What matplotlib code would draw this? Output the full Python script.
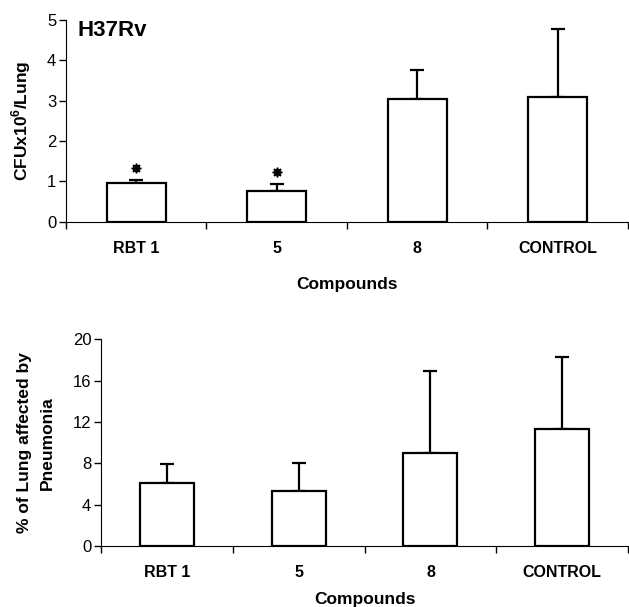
import matplotlib.pyplot as plt
from matplotlib.transforms import offset_copy

plt.rcParams['font.family'] = 'Liberation Sans'
plt.rcParams['mathtext.fontset'] = 'custom'
plt.rcParams['mathtext.rm'] = 'Liberation Sans:bold'
plt.rcParams['mathtext.bf'] = 'Liberation Sans:bold'

compounds = ['RBT 1', '5', '8', 'CONTROL']
cfu = [0.96, 0.76, 3.04, 3.09]
cfu_err = [0.07, 0.17, 0.72, 1.68]
cfu_signif = [True, True, False, False]
pneumonia = [6.1, 5.3, 9.0, 11.35]
pneumonia_err = [1.85, 2.7, 7.9, 6.95]

fig = plt.figure(figsize=(6.29, 6.07), dpi=100)
ax1 = fig.add_axes([0.105, 0.6347, 0.893, 0.3322])
ax2 = fig.add_axes([0.1606, 0.1005, 0.838, 0.3405])


def style(ax, ylim, yticks):
    x = list(range(len(compounds)))
    ax.set_xlim(-0.5, len(compounds) - 0.5)
    ax.set_ylim(*ylim)
    ax.set_yticks(yticks)
    ax.set_xticks([i - 0.5 for i in range(len(compounds) + 1)])
    ax.set_xticklabels([])
    ax.set_xticks(x, minor=True)
    ax.set_xticklabels(compounds, minor=True, fontweight='bold', fontsize=11.5)
    ax.tick_params(axis='x', which='minor', length=0, pad=14)
    ax.tick_params(axis='x', which='major', length=5, width=1)
    ax.tick_params(axis='y', length=5, width=1, labelsize=12, pad=2)
    ax.spines['top'].set_visible(False)
    ax.spines['right'].set_visible(False)
    ax.set_xlabel('Compounds', fontweight='bold', fontsize=12.5)
    return x


x = style(ax1, (0, 5), [0, 1, 2, 3, 4, 5])
ax1.bar(x, cfu, width=0.42, fc='white', edgecolor='k', linewidth=1.6, zorder=2)
ax1.errorbar(x, cfu, yerr=[[0] * len(cfu), cfu_err], fmt='none', ecolor='k',
             elinewidth=1.6, capsize=5, capthick=1.6, zorder=1)
star_tr = offset_copy(ax1.transData, fig=fig, x=0, y=9, units='points')
for i in range(len(x)):
    if cfu_signif[i]:
        ax1.plot(x[i], cfu[i] + cfu_err[i], marker=(8, 1, 0), ms=7, color='k',
                 transform=star_tr, clip_on=False)
ax1.set_ylabel(r'CFUx10$^{6}$/Lung', fontweight='bold', fontsize=12.5, labelpad=10)
ax1.xaxis.labelpad = 15
ax1.text(0.02, 1.0, 'H37Rv', transform=ax1.transAxes, fontsize=16,
         fontweight='bold', va='top', ha='left')

x = style(ax2, (0, 20), [0, 4, 8, 12, 16, 20])
ax2.bar(x, pneumonia, width=0.41, fc='white', edgecolor='k', linewidth=1.6, zorder=2)
ax2.errorbar(x, pneumonia, yerr=[[0] * len(pneumonia), pneumonia_err], fmt='none',
             ecolor='k', elinewidth=1.6, capsize=5, capthick=1.6, zorder=1)
ax2.set_ylabel('% of Lung affected by\nPneumonia', fontweight='bold', fontsize=12.5,
               labelpad=13, linespacing=1.6)
ax2.xaxis.labelpad = 8

fig.savefig('out.png', dpi=100)
